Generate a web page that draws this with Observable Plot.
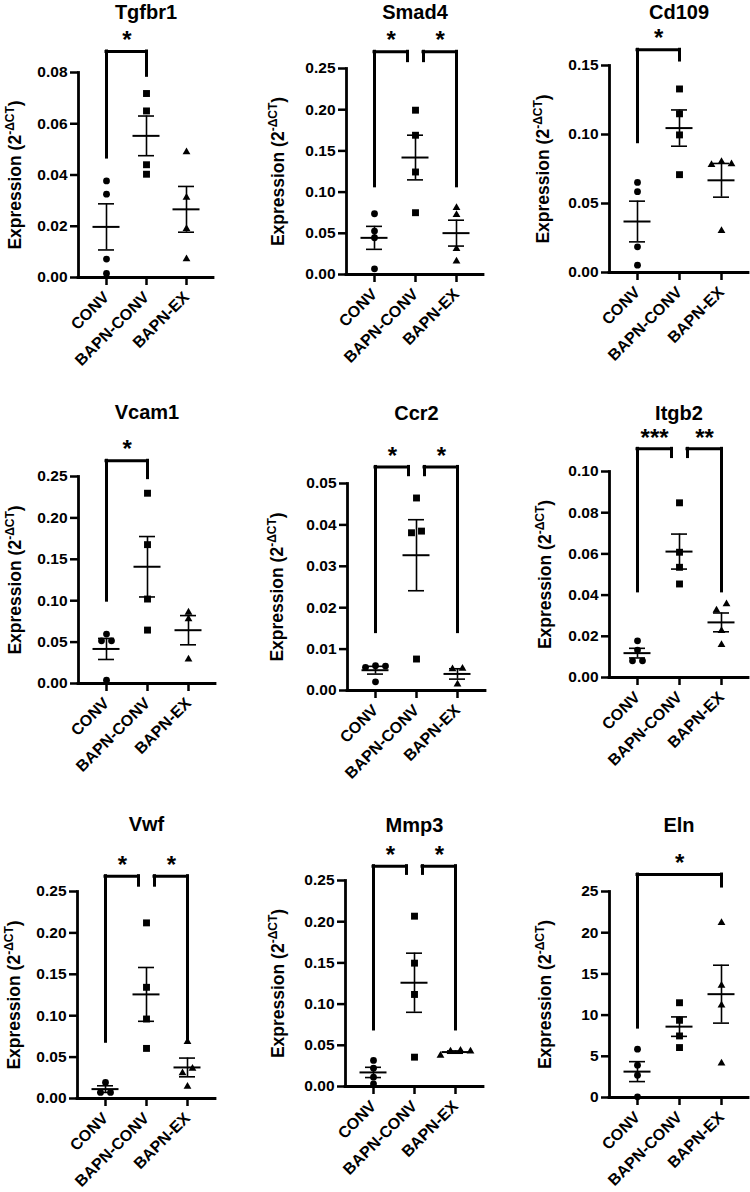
<!DOCTYPE html>
<html><head><meta charset="utf-8">
<script src="https://cdn.jsdelivr.net/npm/d3@7"></script>
<script src="https://cdn.jsdelivr.net/npm/@observablehq/plot@0.6"></script>
<style>
body{margin:0;background:#fff;}
#wrap{position:relative;width:750px;height:1192px;overflow:hidden;background:#fff;}
.panel{position:absolute;}
</style></head><body><div id="wrap"></div>
<script>
// ---------- DATA ----------
const groups = ["CONV", "BAPN-CONV", "BAPN-EX"];
const genes = ["Tgfbr1", "Smad4", "Cd109", "Vcam1", "Ccr2", "Itgb2", "Vwf", "Mmp3", "Eln"];
const yLabelMain = "Expression (2";
const yLabelSup = "-ΔCT";
const yLabelEnd = ")";

// individual values per group: [CONV, BAPN-CONV, BAPN-EX]
const tgfbr1 = [[0.0377, 0.0325, 0.0072, 0.0016], [0.0718, 0.065, 0.044, 0.0403], [0.049, 0.0312, 0.019, 0.0072]];
const smad4  = [[0.0737, 0.0527, 0.0446, 0.0069], [0.1994, 0.169, 0.1244, 0.075], [0.081, 0.0724, 0.0312, 0.0162]];
const cd109  = [[0.0653, 0.0586, 0.0186, 0.0053], [0.133, 0.115, 0.0997, 0.0709], [0.0803, 0.0787, 0.078, 0.0302]];
const vcam1  = [[0.0597, 0.0516, 0.0516, 0.004], [0.2298, 0.1677, 0.102, 0.0645], [0.0859, 0.0778, 0.0294]];
const ccr2   = [[0.006, 0.0059, 0.0056, 0.0021], [0.0465, 0.0385, 0.0381, 0.0076], [0.0053, 0.0052, 0.0015]];
const itgb2  = [[0.0178, 0.0133, 0.0081, 0.0081], [0.0848, 0.0608, 0.0535, 0.0454], [0.0357, 0.0327, 0.0227, 0.0159]];
const vwf    = [[0.0194, 0.0073, 0.0073], [0.2121, 0.1343, 0.096, 0.0605], [0.0685, 0.0363, 0.0307, 0.0145]];
const mmp3   = [[0.0316, 0.0222, 0.0113, 0.0032], [0.2067, 0.1497, 0.1117, 0.0356], [0.0437, 0.0429, 0.0429, 0.0376]];
const eln    = [[5.86, 3.92, 2.7, 0.08], [11.5, 9.37, 7.47, 6.06], [21.2, 13.6, 11.2, 4.16]];

// y tick values
const ticksTgfbr1 = [0, 0.02, 0.04, 0.06, 0.08];
const ticksSmad4  = [0, 0.05, 0.10, 0.15, 0.20, 0.25];
const ticksCd109  = [0, 0.05, 0.10, 0.15];
const ticksVcam1  = [0, 0.05, 0.10, 0.15, 0.20, 0.25];
const ticksCcr2   = [0, 0.01, 0.02, 0.03, 0.04, 0.05];
const ticksItgb2  = [0, 0.02, 0.04, 0.06, 0.08, 0.10];
const ticksVwf    = [0, 0.05, 0.10, 0.15, 0.20, 0.25];
const ticksMmp3   = [0, 0.05, 0.10, 0.15, 0.20, 0.25];
const ticksEln    = [0, 5, 10, 15, 20, 25];

// significance brackets: [fromGroup, toGroup, label, bracket top, from-leg bottom, to-leg bottom]
const sigTgfbr1 = [[0, 1, "*", 0.0882, 0.0468, 0.0787]];
const sigSmad4  = [[0, 1, "*", 0.2703, 0.107, 0.2589], [1, 2, "*", 0.2703, 0.2589, 0.107]];
const sigCd109  = [[0, 1, "*", 0.1614, 0.0944, 0.1536]];
const sigVcam1  = [[0, 1, "*", 0.269, 0.1, 0.248]];
const sigCcr2   = [[0, 1, "*", 0.054, 0.0141, 0.052], [1, 2, "*", 0.054, 0.052, 0.0141]];
const sigItgb2  = [[0, 1, "***", 0.111, 0.0418, 0.107], [1, 2, "**", 0.111, 0.107, 0.0418]];
const sigVwf    = [[0, 1, "*", 0.2685, 0.0685, 0.257], [1, 2, "*", 0.2685, 0.257, 0.0685]];
const sigMmp3   = [[0, 1, "*", 0.2674, 0.0692, 0.258], [1, 2, "*", 0.2674, 0.258, 0.0692]];
const sigEln    = [[0, 2, "*", 27.06, 8.48, 25.6]];

const valueSets = [tgfbr1, smad4, cd109, vcam1, ccr2, itgb2, vwf, mmp3, eln];
const tickSets = [ticksTgfbr1, ticksSmad4, ticksCd109, ticksVcam1, ticksCcr2, ticksItgb2, ticksVwf, ticksMmp3, ticksEln];
const sigSets = [sigTgfbr1, sigSmad4, sigCd109, sigVcam1, sigCcr2, sigItgb2, sigVwf, sigMmp3, sigEln];

// ---------- LAYOUT (pixels, page coordinates) ----------
const layout = [
  {col: 0, row: 0, x0: 78,  x1: 213, yTop: 72,  yBot: 277,  titleY: 12,  labelX: 15},
  {col: 1, row: 0, x0: 346, x1: 483, yTop: 68,  yBot: 274,  titleY: 12,  labelX: 278},
  {col: 2, row: 0, x0: 609, x1: 748, yTop: 65,  yBot: 272,  titleY: 12,  labelX: 543},
  {col: 0, row: 1, x0: 78,  x1: 215, yTop: 476, yBot: 683,  titleY: 412, labelX: 15},
  {col: 1, row: 1, x0: 347, x1: 485, yTop: 483, yBot: 690,  titleY: 413, labelX: 277},
  {col: 2, row: 1, x0: 609, x1: 748, yTop: 471, yBot: 677,  titleY: 413, labelX: 545},
  {col: 0, row: 2, x0: 77,  x1: 215, yTop: 891, yBot: 1098, titleY: 824, labelX: 14},
  {col: 1, row: 2, x0: 345, x1: 483, yTop: 880, yBot: 1086, titleY: 825, labelX: 278},
  {col: 2, row: 2, x0: 609, x1: 748, yTop: 891, yBot: 1097, titleY: 825, labelX: 545}
];
const rowTops = [0, 396, 790];
const rowBottoms = [396, 790, 1192];
const symbols = ["circle", "square", "triangle"];
const radii = [3.4, 3.9, 2.9];
const xPad = 0.65;
const dodgeStep = 10;
const legOffset = 8;
const FONT = "'Liberation Sans', Arial, Helvetica, sans-serif";

function slotOrder(k) {
  if (k === 1) return [0];
  const out = [];
  if (k % 2 === 1) { out.push(0); for (let j = 1; out.length < k; j++) { out.push(j, -j); } }
  else { for (let j = 0.5; out.length < k; j++) { out.push(j, -j); } }
  return out.slice(0, k);
}

function buildPanel(i) {
  const L = layout[i];
  const vals = valueSets[i];
  const ticks = tickSets[i];
  const sig = sigSets[i];
  const top = ticks[ticks.length - 1];
  const W = 250, H = rowBottoms[L.row] - rowTops[L.row];
  const mL = L.x0 - L.col * 250, mR = (L.col + 1) * 250 - L.x1;
  const mT = L.yTop - rowTops[L.row], mB = rowBottoms[L.row] - L.yBot;
  const pxPerUnit = (L.yBot - L.yTop) / top;
  const step = (L.x1 - L.x0) / (groups.length - 1 + 2 * xPad);

  // points with simple horizontal dodge of overlapping values
  const pts = [];
  vals.forEach((arr, g) => {
    const sorted = arr.map(v => ({group: groups[g], gi: g, value: v})).sort((a, b) => b.value - a.value);
    const rows = [];
    for (const p of sorted) {
      const r = rows[rows.length - 1];
      if (r && (r[0].value - p.value) * pxPerUnit < 6.5) r.push(p); else rows.push([p]);
    }
    for (const r of rows) { const ord = slotOrder(r.length); r.forEach((p, k) => { p.slot = ord[k]; pts.push(p); }); }
  });
  const stats = vals.map((arr, g) => {
    const m = d3.mean(arr), s = d3.deviation(arr) / Math.sqrt(arr.length);
    return {group: groups[g], mean: m, lo: m - s, hi: m + s};
  });

  const marks = [];
  // axes lines
  marks.push(Plot.ruleY([0], {strokeWidth: 2.8, strokeLinecap: "square"}));
  marks.push(Plot.frame({anchor: "left", strokeWidth: 2.8, strokeLinecap: "square"}));
  marks.push(Plot.axisY({ticks: ticks, tickFormat: top >= 1 ? d3.format("d") : d3.format(".2f"), tickSize: 8, tickPadding: 3, fontSize: 15.5, strokeWidth: 2.5, label: null}));
  marks.push(Plot.axisX({tickSize: 8, tickPadding: 9, tickRotate: -45, fontSize: 16, strokeWidth: 2.5, label: null}));

  // error bars (SEM) and mean lines
  marks.push(Plot.ruleX(stats, {x: "group", y1: "lo", y2: "hi", strokeWidth: 1.6}));
  marks.push(Plot.ruleY(stats, {x1: "group", x2: "group", y: "hi", insetLeft: -8, insetRight: -8, strokeWidth: 1.6}));
  marks.push(Plot.ruleY(stats, {x1: "group", x2: "group", y: "lo", insetLeft: -8, insetRight: -8, strokeWidth: 1.6}));
  marks.push(Plot.ruleY(stats, {x1: "group", x2: "group", y: "mean", insetLeft: -13.5, insetRight: -13.5, strokeWidth: 2}));

  // dots
  for (const [gi, bySlot] of d3.groups(pts, p => p.gi, p => p.slot)) {
    for (const [slot, arr] of bySlot) {
      marks.push(Plot.dot(arr, {x: "group", y: "value", symbol: symbols[gi], r: radii[gi], fill: "black", stroke: "none", dx: slot * dodgeStep}));
    }
  }

  // significance brackets
  const endCount = new Map();
  for (const b of sig) { endCount.set(b[0], (endCount.get(b[0]) || 0) + 1); endCount.set(b[1], (endCount.get(b[1]) || 0) + 1); }
  for (const b of sig) {
    const offFrom = endCount.get(b[0]) > 1 ? legOffset : 0;
    const offTo = endCount.get(b[1]) > 1 ? -legOffset : 0;
    const common = {stroke: "black", strokeWidth: 3, strokeLinecap: "square"};
    marks.push(Plot.ruleY([b], {x1: d => groups[d[0]], x2: d => groups[d[1]], y: d => d[3], insetLeft: offFrom, insetRight: -offTo, ...common}));
    marks.push(Plot.ruleX([b], {x: d => groups[d[0]], y1: d => d[4], y2: d => d[3], dx: offFrom, ...common}));
    marks.push(Plot.ruleX([b], {x: d => groups[d[1]], y1: d => d[5], y2: d => d[3], dx: offTo, ...common}));
    const mid = ((b[1] - b[0]) * step + offFrom + offTo) / 2;
    marks.push(Plot.text([b], {x: d => groups[d[0]], y: d => d[3], text: d => d[2], dx: mid, dy: -11, fontSize: 24, lineAnchor: "middle"}));
  }

  // title and y label
  marks.push(Plot.text([genes[i]], {frameAnchor: "top", dy: L.titleY - L.yTop, fontSize: 20, lineAnchor: "middle"}));
  marks.push(Plot.text([yLabelMain + yLabelSup + yLabelEnd], {frameAnchor: "left", dx: L.labelX - L.x0, rotate: -90, textAnchor: "middle", lineAnchor: "middle", fontSize: 17.5}));

  const svg = Plot.plot({
    width: W, height: H,
    marginLeft: mL, marginRight: mR, marginTop: mT, marginBottom: mB,
    x: {type: "point", domain: groups, padding: xPad},
    y: {domain: [0, top]},
    style: {fontFamily: FONT, fontWeight: "bold", fontSize: "15px", color: "#000", background: "transparent", overflow: "visible"},
    marks
  });

  // superscript in the y label
  d3.select(svg).selectAll("text").each(function () {
    if (this.textContent === yLabelMain + yLabelSup + yLabelEnd) {
      const t = d3.select(this);
      t.text(null);
      t.append("tspan").text(yLabelMain);
      t.append("tspan").attr("font-size", "12px").attr("dy", "-7").text(yLabelSup);
      t.append("tspan").attr("dy", "7").text(yLabelEnd);
    }
  });
  const div = document.createElement("div");
  div.className = "panel";
  div.style.left = (L.col * 250) + "px";
  div.style.top = rowTops[L.row] + "px";
  div.appendChild(svg);
  document.getElementById("wrap").appendChild(div);
}

genes.forEach((g, i) => buildPanel(i));
</script></body></html>
